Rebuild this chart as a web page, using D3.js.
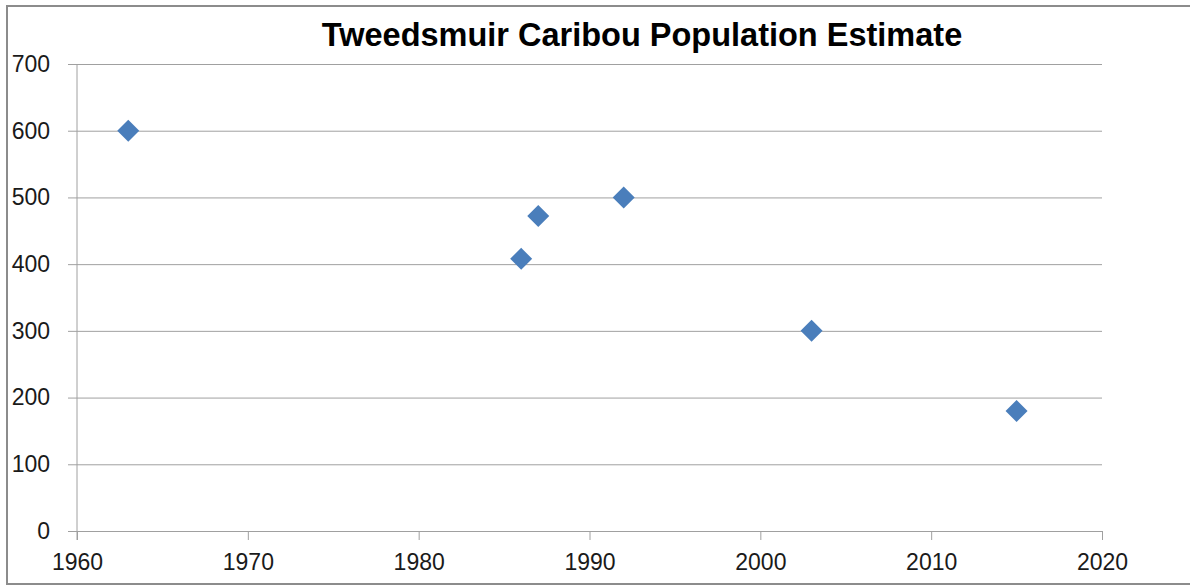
<!DOCTYPE html>
<html>
<head>
<meta charset="utf-8">
<script src="https://cdn.jsdelivr.net/npm/d3@7"></script>
<style>
  body { margin: 0; background: #fff; }
  text { font-family: "Liberation Sans", Arial, sans-serif; }
</style>
</head>
<body>
<div id="chart"></div>
<script>
(function(){
  var width = 1190;
  var height = 585;
  var years = [1963, 1986, 1987, 1992, 2003, 2015];
  var population = [600, 408, 472, 500, 300, 180];
  var xTicks = [1960, 1970, 1980, 1990, 2000, 2010, 2020];
  var yTicks = [0, 100, 200, 300, 400, 500, 600, 700];
  var title = 'Tweedsmuir Caribou Population Estimate';

  var svg = d3.select('#chart').append('svg')
                .attr('width', width)
                .attr('height', height);

  // chart frame
  svg.append('rect')
      .attr('x', 7).attr('y', 6)
      .attr('width', 1200).attr('height', 578)
      .attr('fill', 'none')
      .attr('stroke', '#8c8c8c')
      .attr('stroke-width', 2);

  var x = d3.scaleLinear().domain([1960, 2020]).range([77, 1102]);
  var y = d3.scaleLinear().domain([0, 700]).range([531, 64]);

  //Gridlines + y axis
  var yAxis = d3.axisLeft(y).tickValues(yTicks).tickSize(-(1102 - 77)).tickPadding(27);
  var gy = svg.append('g').attr('transform', 'translate(77,0)').call(yAxis);
  gy.select('.domain').remove();
  gy.selectAll('.tick line').attr('stroke', '#a0a0a0').attr('x1', -9);
  gy.selectAll('.tick text').attr('font-size', '23px').attr('fill', '#1a1a1a');

  //x axis
  var xAxis = d3.axisBottom(x).tickValues(xTicks).tickFormat(d3.format('d')).tickSize(9).tickSizeOuter(0).tickPadding(14);
  var gx = svg.append('g').attr('transform', 'translate(0,531)').call(xAxis);
  gx.select('.domain').attr('stroke', '#a0a0a0');
  gx.selectAll('.tick line').attr('stroke', '#a0a0a0');
  gx.selectAll('.tick text').attr('font-size', '23px').attr('fill', '#1a1a1a');

  // left vertical axis line
  svg.append('line')
      .attr('x1', 77).attr('x2', 77)
      .attr('y1', 64).attr('y2', 540)
      .attr('stroke', '#a0a0a0');

  //Diamond markers
  svg.selectAll('path.pt')
      .data(years)
      .enter()
      .append('path')
        .attr('class', 'pt')
        .attr('d', 'M0,-11L11,0L0,11L-11,0Z')
        .attr('transform', function(d, i){ return 'translate(' + x(d) + ',' + y(population[i]) + ')'; })
        .attr('fill', '#4a7ebb');

  svg.append('text')
      .text(title)
      .attr('x', 642)
      .attr('y', 46)
      .attr('text-anchor', 'middle')
      .attr('font-size', '32.5px')
      .attr('font-weight', 'bold')
      .attr('fill', '#000');
})();
</script>
</body>
</html>
